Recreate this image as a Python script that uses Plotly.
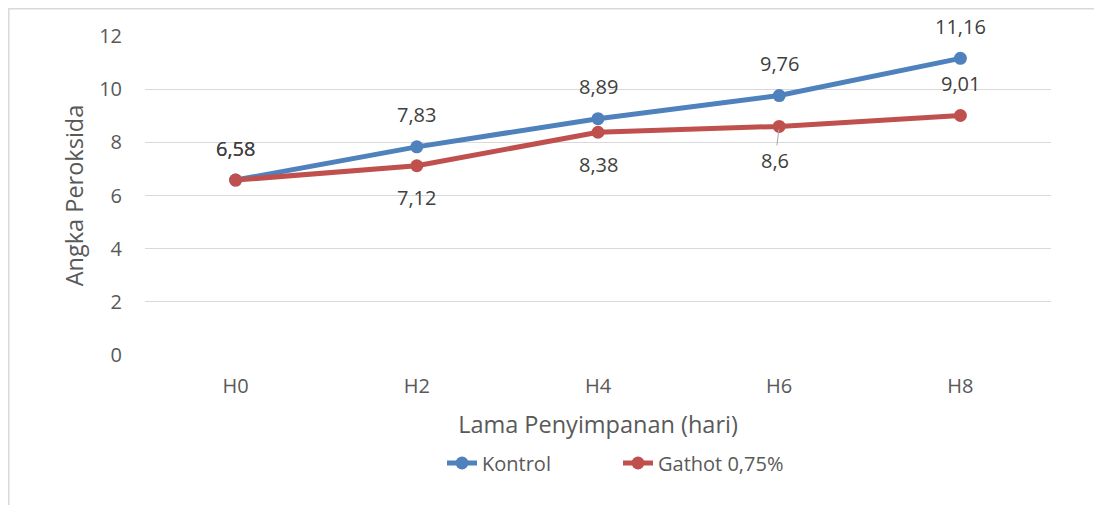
import plotly.graph_objects as go

hari = ["H0", "H2", "H4", "H6", "H8"]
kontrol = [6.58, 7.83, 8.89, 9.76, 11.16]
gathot = [6.58, 7.12, 8.38, 8.6, 9.01]
kontrol_label = ["6,58", "7,83", "8,89", "9,76", "11,16"]
gathot_label = ["6,58", "7,12", "8,38", "8,6", "9,01"]
# posisi label: 1 = di atas titik, -1 = di bawah
gathot_pos = [1, -1, -1, -1, 1]

BLUE = "#4F81BD"
RED = "#C0504D"
FONT = "Open Sans"
TXT = "#404040"
GREY = "#595959"

OFF = 8  # margin bawaan body halaman
W, H = 1102, 505
L, T = 145 - OFF, 36 - OFF
plot_r, plot_b = 1051 - OFF, 355 - OFF
R, B = W - plot_r, H - plot_b
pw, ph = plot_r - L, plot_b - T

fig = go.Figure()
fig.add_trace(go.Scatter(x=hari, y=kontrol, mode="lines+markers", name="Kontrol",
                         line=dict(color=BLUE, width=5), marker=dict(size=13, color=BLUE)))
fig.add_trace(go.Scatter(x=hari, y=gathot, mode="lines+markers", name="Gathot 0,75%",
                         line=dict(color=RED, width=5), marker=dict(size=13, color=RED)))

for x, y, t in zip(hari, kontrol, kontrol_label):
    fig.add_annotation(x=x, y=y, text=t, showarrow=False, yshift=32,
                       font=dict(family=FONT, size=20, color=TXT))

for i, (x, y, t, p) in enumerate(zip(hari, gathot, gathot_label, gathot_pos)):
    if i == 3:
        # label dengan garis penunjuk
        fig.add_annotation(x=x, y=y, text=t, showarrow=True, ax=-4, ay=34,
                           arrowhead=0, arrowwidth=1, arrowcolor="#a6a6a6", standoff=3,
                           font=dict(family=FONT, size=20, color=TXT))
    else:
        fig.add_annotation(x=x, y=y, text=t, showarrow=False, yshift=32 * p,
                           font=dict(family=FONT, size=20, color=TXT))

# bingkai chart
fig.add_shape(type="rect", xref="paper", yref="paper", layer="below",
              x0=(0.8 - L) / pw, x1=(W + 10 - L) / pw,
              y0=(plot_b - H - 10) / ph, y1=(plot_b - 0.8) / ph,
              line=dict(color="#d9d9d9", width=1.5), fillcolor="rgba(0,0,0,0)")

fig.update_layout(
    width=W, height=H,
    margin=dict(l=L, r=R, t=T, b=B),
    paper_bgcolor="white", plot_bgcolor="white",
    font=dict(family=FONT, size=20, color=GREY),
    showlegend=True,
    legend=dict(orientation="h", x=0.5 + 20 / pw, xanchor="center",
                y=(plot_b - (463 - OFF)) / ph,
                yanchor="middle", entrywidth=131,
                font=dict(family=FONT, size=20, color=GREY)),
    xaxis=dict(title=dict(text="Lama Penyimpanan (hari)", standoff=18,
                          font=dict(family=FONT, size=23.5, color=GREY)),
               range=[-0.5, 4.5], showgrid=False, showline=False, zeroline=False,
               ticks="outside", ticklen=13, tickcolor="rgba(0,0,0,0)",
               tickfont=dict(family=FONT, size=20, color=GREY)),
    yaxis=dict(title=dict(text="Angka Peroksida", standoff=8,
                          font=dict(family=FONT, size=23.5, color=GREY)),
               range=[0, 12], dtick=2, showgrid=True, gridcolor="#d9d9d9", gridwidth=1.3,
               zeroline=False, showline=False,
               ticks="outside", ticklen=18, tickcolor="rgba(0,0,0,0)",
               tickfont=dict(family=FONT, size=20, color=GREY)),
)

fig.write_html("out.html")
